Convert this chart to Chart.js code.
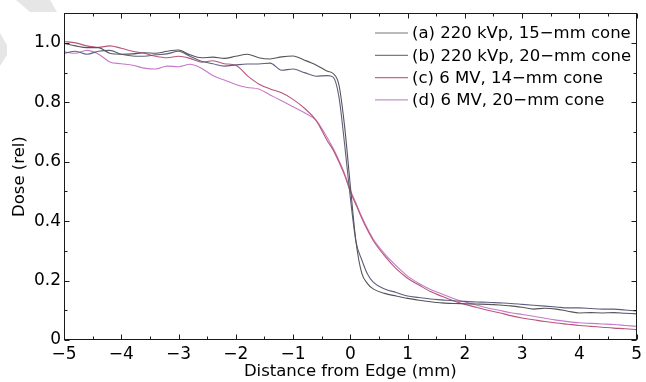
<!DOCTYPE html>
<html>
<head>
<meta charset="utf-8">
<script src="https://cdn.jsdelivr.net/npm/chart.js@4/dist/chart.umd.min.js"></script>
<style>
  html, body { margin: 0; padding: 0; background: #fff; }
  canvas { display: block; }
</style>
</head>
<body>
<canvas id="doseChart" width="646" height="382"></canvas>
<script>
// distance from the field edge (mm), finer steps across the edge itself
const distances = [
  -5.0, -4.8, -4.6, -4.4, -4.2, -4.0, -3.8, -3.6, -3.4, -3.2,
  -3.0, -2.8, -2.6, -2.4, -2.2, -2.0, -1.8, -1.6, -1.4, -1.2,
  -1.0, -0.8, -0.6, -0.4, -0.3, -0.2, -0.1, 0, 0.1, 0.2,
  0.3, 0.4, 0.6, 0.8, 1.0, 1.2, 1.4, 1.6, 1.8, 2.0,
  2.2, 2.4, 2.6, 2.8, 3.0, 3.2, 3.4, 3.6, 3.8, 4.0,
  4.2, 4.4, 4.6, 4.8, 5.0
];

const kvp15 = [
  0.998, 0.990, 0.984, 0.984, 0.965, 0.962, 0.963, 0.967, 0.965, 0.972,
  0.976, 0.960, 0.950, 0.952, 0.948, 0.955, 0.962, 0.950, 0.946, 0.953,
  0.956, 0.942, 0.926, 0.905, 0.897, 0.860, 0.720, 0.520, 0.330, 0.225,
  0.190, 0.172, 0.157, 0.148, 0.140, 0.134, 0.129, 0.125, 0.123, 0.122,
  0.121, 0.120, 0.118, 0.115, 0.110, 0.104, 0.107, 0.104, 0.097, 0.091,
  0.092, 0.091, 0.092, 0.090, 0.088
];
const kvp20 = [
  0.965, 0.972, 0.962, 0.972, 0.975, 0.962, 0.956, 0.955, 0.960, 0.963,
  0.972, 0.955, 0.938, 0.930, 0.922, 0.926, 0.929, 0.929, 0.932, 0.908,
  0.912, 0.900, 0.888, 0.890, 0.885, 0.820, 0.660, 0.480, 0.330, 0.270,
  0.222, 0.195, 0.172, 0.160, 0.148, 0.143, 0.138, 0.135, 0.132, 0.130,
  0.128, 0.127, 0.125, 0.123, 0.120, 0.117, 0.114, 0.111, 0.108, 0.108,
  0.106, 0.104, 0.104, 0.101, 0.098
];
const mv14 = [
  1.005, 1.000, 0.990, 0.985, 0.990, 0.982, 0.972, 0.965, 0.955, 0.950,
  0.955, 0.948, 0.935, 0.940, 0.930, 0.925, 0.890, 0.862, 0.845, 0.832,
  0.810, 0.780, 0.740, 0.670, 0.640, 0.600, 0.555, 0.500, 0.455, 0.410,
  0.370, 0.335, 0.283, 0.240, 0.208, 0.185, 0.163, 0.147, 0.132, 0.120,
  0.110, 0.100, 0.092, 0.082, 0.074, 0.068, 0.062, 0.057, 0.053, 0.049,
  0.046, 0.043, 0.040, 0.038, 0.035
];
const mv20 = [
  0.970, 0.965, 0.975, 0.963, 0.936, 0.930, 0.925, 0.915, 0.912, 0.922,
  0.920, 0.928, 0.915, 0.890, 0.875, 0.860, 0.850, 0.845, 0.825, 0.805,
  0.785, 0.765, 0.740, 0.680, 0.645, 0.605, 0.560, 0.505, 0.460, 0.415,
  0.375, 0.340, 0.290, 0.250, 0.215, 0.190, 0.170, 0.155, 0.140, 0.128,
  0.118, 0.108, 0.100, 0.092, 0.086, 0.080, 0.073, 0.067, 0.062, 0.058,
  0.056, 0.054, 0.052, 0.049, 0.046
];

const seriesLabels = [
  "(a) 220 kVp, 15\u2212mm cone",
  "(b) 220 kVp, 20\u2212mm cone",
  "(c) 6 MV, 14\u2212mm cone",
  "(d) 6 MV, 20\u2212mm cone"
];
const seriesColors = ["#555555", "#5e5e80", "#b8567a", "#c67ac8"];
const legendColors = ["#777777", "#7a7a8c", "#c46a86", "#c392c9"];

const xTicks = [-5, -4, -3, -2, -1, 0, 1, 2, 3, 4, 5];
const xMinorTicks = [-4.5, -3.5, -2.5, -1.5, -0.5, 0.5, 1.5, 2.5, 3.5, 4.5];
const yTicks = [0, 0.2, 0.4, 0.6, 0.8, 1.0];
const yTickLabels = ["0", "0.2", "0.4", "0.6", "0.8", "1.0"];
const yMinorTicks = [0.1, 0.3, 0.5, 0.7, 0.9, 1.1];

const font = "'DejaVu Sans', sans-serif";

// pair the shared distance axis with one series
function toPoints(values) {
  return distances.map((d, i) => ({ x: d, y: values[i] }));
}

// white page plus the grey watermark corner
const backdrop = {
  id: "backdrop",
  beforeDraw(chart) {
    const ctx = chart.ctx;
    ctx.save();
    ctx.fillStyle = "#ffffff";
    ctx.fillRect(0, 0, chart.width, chart.height);
    ctx.fillStyle = "#e6e6e6";
    ctx.beginPath();
    ctx.moveTo(16, 0);
    ctx.lineTo(50, 0);
    ctx.lineTo(57, 12);
    ctx.lineTo(30, 12);
    ctx.closePath();
    ctx.fill();
    ctx.beginPath();
    ctx.moveTo(0, 33);
    ctx.lineTo(7, 45);
    ctx.lineTo(7, 55);
    ctx.lineTo(0, 66);
    ctx.closePath();
    ctx.fill();
    ctx.restore();
  }
};

// box round the plot and inward ticks on all four sides
const frameTicks = {
  id: "frameTicks",
  afterDatasetsDraw(chart) {
    const { ctx, chartArea: a, scales } = chart;
    const L = Math.round(a.left) + 0.5, R = Math.round(a.right) - 0.5;
    const T = Math.round(a.top) + 0.5, B = Math.round(a.bottom) - 0.5;
    ctx.save();
    ctx.strokeStyle = "#1a1a1a";
    ctx.lineWidth = 1;
    ctx.beginPath();
    const xMark = (v, len) => {
      const px = Math.round(scales.x.getPixelForValue(v)) + 0.5;
      ctx.moveTo(px, B); ctx.lineTo(px, B - len);
      ctx.moveTo(px, T); ctx.lineTo(px, T + len);
    };
    const yMark = (v, len) => {
      const py = Math.round(scales.y.getPixelForValue(v)) + 0.5;
      ctx.moveTo(L, py); ctx.lineTo(L + len, py);
      ctx.moveTo(R, py); ctx.lineTo(R - len, py);
    };
    xTicks.forEach(v => xMark(v, 5));
    xMinorTicks.forEach(v => xMark(v, 3));
    yTicks.forEach(v => yMark(v, 5));
    yMinorTicks.forEach(v => yMark(v, 3));
    ctx.stroke();
    ctx.strokeRect(L, T, R - L, B - T);
    ctx.restore();
  }
};

// legend in the upper right corner, no frame
const cornerLegend = {
  id: "cornerLegend",
  afterDraw(chart) {
    const ctx = chart.ctx;
    ctx.save();
    ctx.font = "16.5px " + font;
    ctx.textBaseline = "middle";
    ctx.fillStyle = "#000";
    chart.data.datasets.forEach((ds, i) => {
      const rowY = 33 + i * 22.3;
      ctx.strokeStyle = legendColors[i];
      ctx.lineWidth = 1.2;
      ctx.beginPath();
      ctx.moveTo(375, rowY);
      ctx.lineTo(408, rowY);
      ctx.stroke();
      ctx.fillText(ds.label, 412, rowY + 1);
    });
    ctx.restore();
  }
};

const chart = new Chart(document.getElementById("doseChart"), {
  type: "line",
  data: {
    datasets: [kvp15, kvp20, mv14, mv20].map((vals, i) => ({
      label: seriesLabels[i],
      data: toPoints(vals),
      borderColor: seriesColors[i],
      borderWidth: 1.1,
      pointRadius: 0,
      cubicInterpolationMode: "monotone",
      fill: false
    }))
  },
  options: {
    responsive: false,
    animation: false,
    devicePixelRatio: 1,
    layout: { padding: { top: 13, right: 6, left: 0, bottom: 0 } },
    plugins: { legend: { display: false }, tooltip: { enabled: false } },
    scales: {
      x: {
        type: "linear",
        min: -5,
        max: 5,
        afterFit: s => { s.height = 42; },
        afterBuildTicks: s => { s.ticks = xTicks.map(v => ({ value: v })); },
        grid: { display: false, drawTicks: false },
        border: { display: false },
        ticks: {
          padding: 4,
          color: "#000",
          font: { family: font, size: 17 },
          maxRotation: 0,
          autoSkip: false,
          callback: v => String(v).replace("-", "\u2212")
        },
        title: {
          display: true,
          text: "Distance from Edge (mm)",
          color: "#000",
          font: { family: font, size: 16.5 },
          padding: { top: 0, bottom: 0 }
        }
      },
      y: {
        min: 0,
        max: 1.1,
        afterFit: s => { s.width = 64; },
        afterBuildTicks: s => { s.ticks = yTicks.map(v => ({ value: v })); },
        grid: { display: false, drawTicks: false },
        border: { display: false },
        ticks: {
          padding: 3,
          color: "#000",
          font: { family: font, size: 17 },
          autoSkip: false,
          callback: (v, i) => yTickLabels[i]
        },
        title: {
          display: true,
          text: "Dose (rel)",
          color: "#000",
          font: { family: font, size: 16.5 },
          padding: { top: 10, bottom: 0 }
        }
      }
    }
  },
  plugins: [backdrop, frameTicks, cornerLegend]
});
</script>
</body>
</html>
